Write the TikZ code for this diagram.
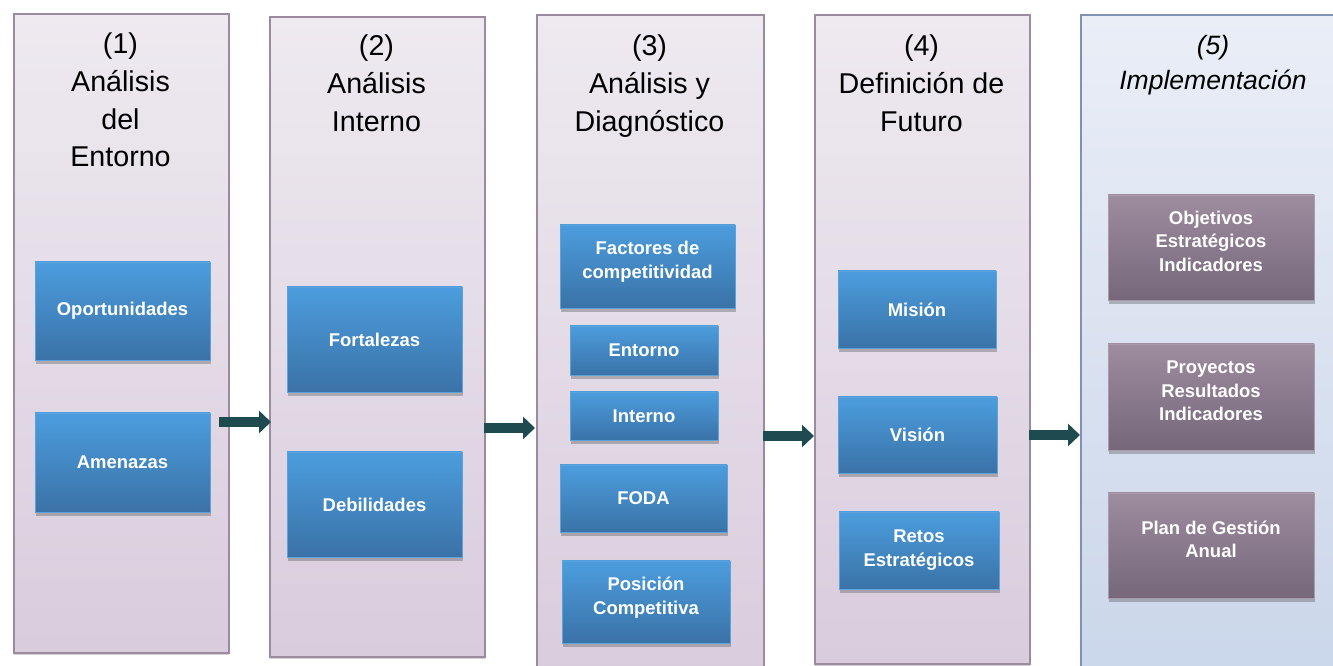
\documentclass[tikz,border=0pt]{standalone}
\usepackage{fontspec}
\setmainfont{Liberation Sans}
\usetikzlibrary{arrows.meta,shadows}
\definecolor{etapaborde}{HTML}{9C8AA0}
\definecolor{etapaarriba}{HTML}{EEEAF0}
\definecolor{etapaabajo}{HTML}{D9CCDD}
\definecolor{implborde}{HTML}{7F92B2}
\definecolor{implarriba}{HTML}{EAEEF7}
\definecolor{implabajo}{HTML}{CAD6EA}
\definecolor{azularriba}{HTML}{4C9DDE}
\definecolor{azulabajo}{HTML}{3A72A7}
\definecolor{azulborde}{HTML}{5EA2DA}
\definecolor{lilaarriba}{HTML}{9E8C9F}
\definecolor{lilaabajo}{HTML}{76677A}
\definecolor{lilaborde}{HTML}{AA9AAB}
\definecolor{flechacolor}{HTML}{1E4B50}
\tikzset{
  etapa/.style={draw=etapaborde,line width=0.9pt,top color=etapaarriba,bottom color=etapaabajo,
    anchor=north west,inner sep=0pt,
    drop shadow={shadow xshift=0.3pt,shadow yshift=-1.5pt,opacity=0.25,fill=black!70}},
  titulo/.style={align=center,anchor=north,inner sep=0pt,font=\fontsize{16.3}{21.6}\selectfont},
  caja/.style={draw=azulborde,thin,top color=azularriba,bottom color=azulabajo,text=white,
    align=center,inner sep=2pt,font=\fontsize{10.5}{13.6}\selectfont\bfseries,
    drop shadow={shadow xshift=0.5pt,shadow yshift=-2pt,opacity=0.35,fill=black!70}},
  meta/.style={caja,draw=lilaborde,top color=lilaarriba,bottom color=lilaabajo},
  subido/.style={text depth=0.25cm},
  flecha/.style={-{Triangle[width=0.44cm,length=0.24cm]},line width=0.19cm,draw=flechacolor}
}
\begin{document}
\begin{tikzpicture}[x=1cm,y=-1cm]
  \useasboundingbox (0,0) rectangle (26.66,13.32);
  % etapas
  \node[etapa,minimum width=4.30cm,minimum height=12.78cm] (col1) at (0.26,0.26) {};
  \node[etapa,minimum width=4.30cm,minimum height=12.80cm] (col2) at (5.38,0.32) {};
  \node[etapa,minimum width=4.54cm,minimum height=13.30cm] (col3) at (10.72,0.28) {};
  \node[etapa,minimum width=4.30cm,minimum height=12.98cm] (col4) at (16.28,0.28) {};
  \node[etapa,draw=implborde,top color=implarriba,bottom color=implabajo,
    minimum width=5.40cm,minimum height=13.30cm] (col5) at (21.60,0.28) {};

  % titulos
  \node[titulo] (t1) at (2.41,0.64) {(1)\\Análisis\\del\\Entorno};
  \node[titulo] (t2) at (7.53,0.68) {(2)\\Análisis\\Interno};
  \node[titulo] (t3) at (12.99,0.68) {(3)\\Análisis y\\Diagnóstico};
  \node[titulo] (t4) at (18.43,0.68) {(4)\\Definición de\\Futuro};
  \node[titulo,font=\fontsize{15.1}{19.9}\selectfont\itshape] (t5) at (24.26,0.70) {(5)\\Implementación};

  % cajas
  \node[caja,minimum width=3.50cm,minimum height=1.96cm] (opo) at (2.45,6.22) {Oportunidades};
  \node[caja,minimum width=3.50cm,minimum height=1.98cm] (ame) at (2.45,9.25) {Amenazas};
  \node[caja,minimum width=3.50cm,minimum height=2.10cm] (fort) at (7.49,6.79) {Fortalezas};
  \node[caja,minimum width=3.50cm,minimum height=2.10cm] (deb) at (7.49,10.09) {Debilidades};
  \node[caja,subido,minimum width=3.50cm,minimum height=1.66cm] (fac) at (12.95,5.33) {Factores de\\competitividad};
  \node[caja,minimum width=2.96cm,minimum height=0.98cm] (ent) at (12.88,7.01) {Entorno};
  \node[caja,minimum width=2.96cm,minimum height=0.96cm] (int) at (12.88,8.32) {Interno};
  \node[caja,minimum width=3.34cm,minimum height=1.34cm] (foda) at (12.87,9.97) {FODA};
  \node[caja,subido,minimum width=3.36cm,minimum height=1.64cm] (pos) at (12.92,12.04) {Posición\\Competitiva};
  \node[caja,minimum width=3.16cm,minimum height=1.54cm] (mis) at (18.34,6.19) {Misión};
  \node[caja,minimum width=3.18cm,minimum height=1.52cm] (vis) at (18.35,8.70) {Visión};
  \node[caja,minimum width=3.20cm,minimum height=1.54cm] (ret) at (18.38,11.01) {Retos\\Estratégicos};
  \node[meta,subido,minimum width=4.12cm,minimum height=2.10cm] (obj) at (24.22,4.95) {Objetivos\\Estratégicos\\Indicadores};
  \node[meta,subido,minimum width=4.12cm,minimum height=2.12cm] (pro) at (24.22,7.94) {Proyectos\\Resultados\\Indicadores};
  \node[meta,subido,minimum width=4.12cm,minimum height=2.10cm] (plan) at (24.22,10.91) {Plan de Gestión\\Anual};

  % flechas entre etapas
  \coordinate (f1) at (4.38,8.44);
  \coordinate (f2) at (9.68,8.56);
  \coordinate (f3) at (15.26,8.72);
  \coordinate (f4) at (20.58,8.70);
  \draw[flecha] (f1) -- ([xshift=0.04cm]f1 -| col2.west);
  \draw[flecha] (f2) -- ([xshift=-0.02cm]f2 -| col3.west);
  \draw[flecha] (f3) -- (f3 -| col4.west);
  \draw[flecha] (f4) -- (f4 -| col5.west);
\end{tikzpicture}
\end{document}
